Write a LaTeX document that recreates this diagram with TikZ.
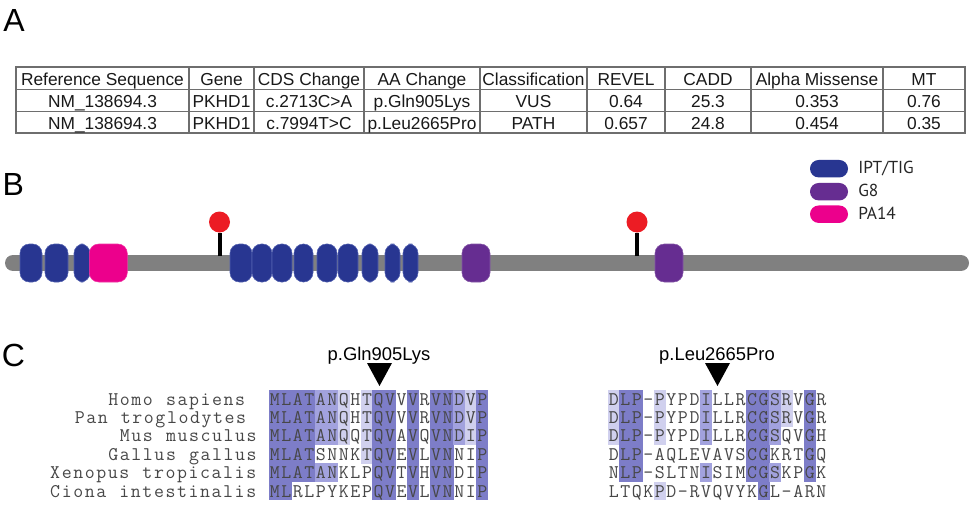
\documentclass[tikz,border=0pt]{standalone}
\usepackage{fontspec}
\setmainfont{Liberation Sans}
\newfontfamily\legfont{PT Sans}
\newcommand\alnfont{\ttfamily\fontsize{14.5}{16}\selectfont}
\definecolor{domblue}{RGB}{40,54,145}
\definecolor{domblueedge}{RGB}{80,95,175}
\definecolor{dompurple}{RGB}{102,45,145}
\definecolor{dompink}{RGB}{236,0,140}
\definecolor{lolred}{RGB}{236,28,36}
\definecolor{bbgray}{RGB}{128,128,128}
\definecolor{pidthree}{RGB}{125,125,200}
\definecolor{pidtwo}{RGB}{162,162,222}
\definecolor{pidone}{RGB}{208,208,238}
\definecolor{gridgray}{RGB}{110,110,110}
\tikzset{
  panel/.style={inner sep=0, anchor=base west, font=\fontsize{24}{28}\selectfont},
  tcell/.style={inner sep=0, anchor=base, font=\fontsize{13}{15}\selectfont, text=black!90},
  tline/.style={draw=gridgray, line width=0.9pt},
  dom/.style={rounded corners=7pt, line width=0.4pt},
  legpill/.style={rounded corners=6.5pt, minimum width=28.5pt, minimum height=13.1pt, inner sep=0},
  legtxt/.style={inner sep=0, anchor=base west, font=\legfont\fontsize{13}{15}\selectfont, text=black!85},
  lolli/.style={circle, fill=lolred, minimum size=15.75pt, inner sep=0},
  mutlab/.style={inner sep=0, anchor=base, font=\fontsize{13.8}{16}\selectfont},
  seqch/.style={inner sep=0, anchor=base, text=black!72, font=\alnfont},
}
% place a string one character per alignment cell
\newcount\alnidx
\def\alnrow#1#2#3#4{%
  \alnidx=0
  \def\alnx{#2}\def\alny{#3}\def\alnname{#1}%
  \alnloop#4\relax}
\def\alnloop#1{%
  \ifx#1\relax\else
    \node[seqch] (\alnname-\the\alnidx) at ({\alnx+(\the\alnidx+0.5)*11.53},\alny) {#1};%
    \advance\alnidx by 1
    \expandafter\alnloop
  \fi}
\begin{document}
\begin{tikzpicture}[x=0.75pt, y=-0.75pt]
\fill[white] (0,0) rectangle (972,507);
\useasboundingbox (0,0) rectangle (972,507);

% ---------------- Panel A ----------------
\node[panel] (lA) at (3,31) {A};
\draw[tline] (16,67) rectangle (965,133);
\draw[tline] (16,89.5) -- (965,89.5);
\draw[tline] (16,111.5) -- (965,111.5);
\foreach \xv in {189,254,364,480,587,665,751,883} {
  \draw[tline] (\xv,67) -- (\xv,133);
}
\node[tcell] (h1) at (102.5,85) {Reference Sequence};
\node[tcell] (h2) at (221.5,85) {Gene};
\node[tcell] (h3) at (309,85) {CDS Change};
\node[tcell] (h4) at (422,85) {AA Change};
\node[tcell] (h5) at (533.5,85) {Classification};
\node[tcell] (h6) at (626,85) {REVEL};
\node[tcell] (h7) at (708,85) {CADD};
\node[tcell] (h8) at (817,85) {Alpha Missense};
\node[tcell] (h9) at (924,85) {MT};
\node[tcell] (a1) at (102.5,107) {NM\_138694.3};
\node[tcell] (a2) at (221.5,107) {PKHD1};
\node[tcell] (a3) at (309,107) {c.2713C>A};
\node[tcell] (a4) at (422,107) {p.Gln905Lys};
\node[tcell] (a5) at (533.5,107) {VUS};
\node[tcell] (a6) at (626,107) {0.64};
\node[tcell] (a7) at (708,107) {25.3};
\node[tcell] (a8) at (817,107) {0.353};
\node[tcell] (a9) at (924,107) {0.76};
\node[tcell] (b1) at (102.5,129) {NM\_138694.3};
\node[tcell] (b2) at (221.5,129) {PKHD1};
\node[tcell] (b3) at (309,129) {c.7994T>C};
\node[tcell] (b4) at (422,129) {p.Leu2665Pro};
\node[tcell] (b5) at (533.5,129) {PATH};
\node[tcell] (b6) at (626,129) {0.657};
\node[tcell] (b7) at (708,129) {24.8};
\node[tcell] (b8) at (817,129) {0.454};
\node[tcell] (b9) at (924,129) {0.35};

% ---------------- Panel B ----------------
\node[panel] (lB) at (2.4,195) {B};
\coordinate (bbL) at (13,263);
\coordinate (bbR) at (961,263);
\draw[bbgray, line width=12pt, line cap=round] (bbL) -- (bbR);
% lollipops
\node[lolli] (m1) at (219.5,222) {};
\node[lolli] (m2) at (637,222) {};
\coordinate (s1) at (219.5,256);
\coordinate (s2) at (637,256);
\draw[black, line width=3pt] (s1) -- (m1.south);
\draw[black, line width=3pt] (s2) -- (m2.south);
% domains
\foreach \xa/\xb in {20/42,45/68,74/90,230/252,252/272,272/292,294/313,317/337,338/358,362/378,385/400,403/418} {
  \path[dom, fill=domblue, draw=domblueedge] (\xa,244) rectangle (\xb,282);
}
\path[dom, fill=dompink, draw=dompink!80!white] (89.3,244) rectangle (127.3,282);
\path[dom, fill=dompurple, draw=dompurple!80!white] (462,244) rectangle (490,282);
\path[dom, fill=dompurple, draw=dompurple!80!white] (655,244) rectangle (683,282);
% legend
\node[legpill, fill=domblue] (lg1) at (829,168.7) {};
\node[legpill, fill=dompurple] (lg2) at (829,191.7) {};
\node[legpill, fill=dompink] (lg3) at (829,214.2) {};
\node[legtxt] (lt1) at (858,173.5) {IPT/TIG};
\node[legtxt] (lt2) at (858,196.5) {G8};
\node[legtxt] (lt3) at (858,219.2) {PA14};

% ---------------- Panel C ----------------
\node[panel] (lC) at (1.5,366) {C};
\node[mutlab] (mut1) at (379,360) {p.Gln905Lys};
\node[mutlab] (mut2) at (717,360) {p.Leu2665Pro};
\coordinate (t1) at (379.5,386);
\coordinate (t2) at (717.5,386);
\fill[black] (367,363) -- (392,363) -- (t1) -- cycle;
\fill[black] (705,363) -- (730,363) -- (t2) -- cycle;

% shading block 1
\foreach \rowlist [count=\r] in {
 {3,3,3,3,2,2,1,0,1,3,3,0,3,0,3,3,2,1,3},
 {3,3,3,3,2,2,1,0,1,3,3,0,3,0,3,3,2,1,3},
 {3,3,3,3,2,2,1,0,1,3,3,0,3,0,3,3,2,1,3},
 {3,3,3,3,0,0,0,0,1,3,3,0,3,0,3,3,0,0,3},
 {3,3,3,3,2,2,0,0,0,3,3,0,3,0,3,3,0,0,3},
 {3,3,0,0,0,0,0,0,0,3,3,0,3,0,3,3,0,0,3}} {
  \foreach \lv [count=\c] in \rowlist {
    \ifnum\lv=3 \fill[pidthree] ({269+(\c-1)*11.53-0.3},{405+(\r-1)*18.4-15.2}) rectangle ({269+\c*11.53+0.3},{405+(\r-1)*18.4+3.4}); \fi
    \ifnum\lv=2 \fill[pidtwo] ({269+(\c-1)*11.53-0.3},{405+(\r-1)*18.4-15.2}) rectangle ({269+\c*11.53+0.3},{405+(\r-1)*18.4+3.4}); \fi
    \ifnum\lv=1 \fill[pidone] ({269+(\c-1)*11.53-0.3},{405+(\r-1)*18.4-15.2}) rectangle ({269+\c*11.53+0.3},{405+(\r-1)*18.4+3.4}); \fi
  }
}
% shading block 2
\foreach \rowlist [count=\r] in {
 {1,3,3,0,1,0,0,0,2,0,0,0,3,3,2,1,0,3,0},
 {1,3,3,0,1,0,0,0,2,0,0,0,3,3,2,1,0,3,0},
 {1,3,3,0,1,0,0,0,2,0,0,0,3,3,2,0,0,3,0},
 {0,3,3,0,0,0,0,0,0,0,0,0,3,3,0,0,0,3,0},
 {0,3,3,0,0,0,0,0,2,0,0,0,3,3,2,0,0,3,0},
 {0,0,0,0,1,0,0,0,0,0,0,0,0,3,0,0,0,0,0}} {
  \foreach \lv [count=\c] in \rowlist {
    \ifnum\lv=3 \fill[pidthree] ({608+(\c-1)*11.53-0.3},{405+(\r-1)*18.4-15.2}) rectangle ({608+\c*11.53+0.3},{405+(\r-1)*18.4+3.4}); \fi
    \ifnum\lv=2 \fill[pidtwo] ({608+(\c-1)*11.53-0.3},{405+(\r-1)*18.4-15.2}) rectangle ({608+\c*11.53+0.3},{405+(\r-1)*18.4+3.4}); \fi
    \ifnum\lv=1 \fill[pidone] ({608+(\c-1)*11.53-0.3},{405+(\r-1)*18.4-15.2}) rectangle ({608+\c*11.53+0.3},{405+(\r-1)*18.4+3.4}); \fi
  }
}

% species names (right aligned, one space before the sequences)
\alnrow{spa}{107.58}{405}{Homo~sapiens}
\alnrow{spb}{73.99}{423.4}{Pan~troglodytes}
\alnrow{spc}{119.11}{441.8}{Mus~musculus}
\alnrow{spd}{107.58}{460.2}{Gallus~gallus}
\alnrow{spe}{49.46}{478.6}{Xenopus~tropicalis}
\alnrow{spf}{49.46}{497}{Ciona~intestinalis}
% block 1 sequences
\alnrow{qa}{269}{405}{MLATANQHTQVVVRVNDVP}
\alnrow{qb}{269}{423.4}{MLATANQHTQVVVRVNDVP}
\alnrow{qc}{269}{441.8}{MLATANQQTQVAVQVNDIP}
\alnrow{qd}{269}{460.2}{MLATSNNKTQVEVLVNNIP}
\alnrow{qe}{269}{478.6}{MLATANKLPQVTVHVNDIP}
\alnrow{qf}{269}{497}{MLRLPYKEPQVEVLVNNIP}
% block 2 sequences
\alnrow{ra}{608}{405}{DLP-PYPDILLRCGSRVGR}
\alnrow{rb}{608}{423.4}{DLP-PYPDILLRCGSRVGR}
\alnrow{rc}{608}{441.8}{DLP-PYPDILLRCGSQVGH}
\alnrow{rd}{608}{460.2}{DLP-AQLEVAVSCGKRTGQ}
\alnrow{re}{608}{478.6}{NLP-SLTNISIMCGSKPGK}
\alnrow{rf}{608}{497}{LTQKPD-RVQVYKGL-ARN}
\end{tikzpicture}
\end{document}
